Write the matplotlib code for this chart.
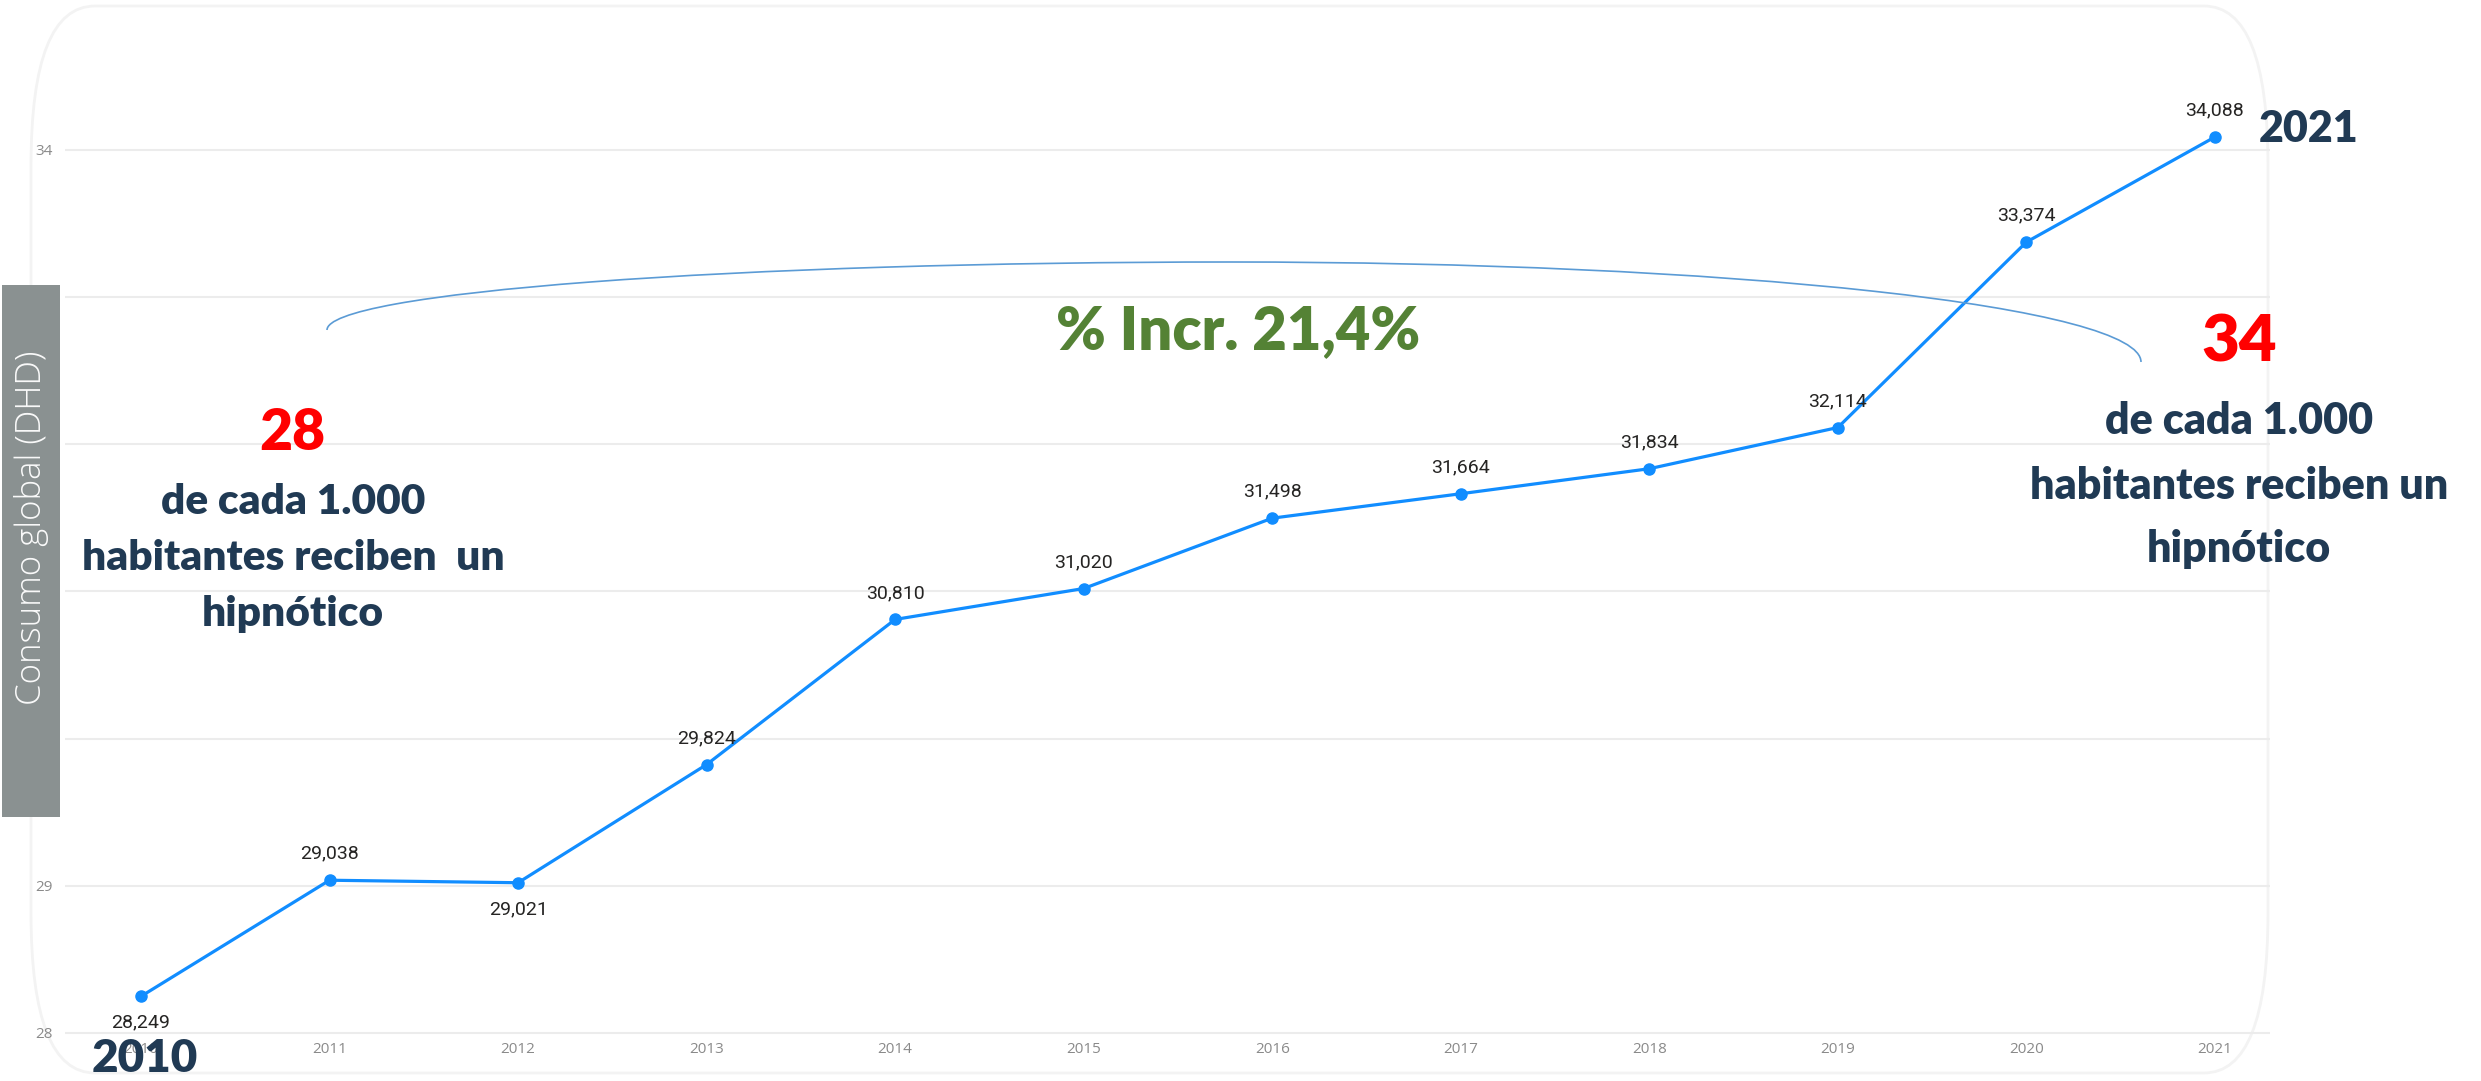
import matplotlib
matplotlib.use('Agg')
import matplotlib.pyplot as plt
from matplotlib.patches import Arc, Rectangle, FancyBboxPatch
from matplotlib.transforms import Affine2D

# values (DHD per year)
years = [2010, 2011, 2012, 2013, 2014, 2015, 2016, 2017, 2018, 2019, 2020, 2021]
dhd = [28.249, 29.038, 29.021, 29.824, 30.810, 31.020, 31.498, 31.664, 31.834, 32.114, 33.374, 34.088]
labels_below = [2010, 2012]
y_ticks = [28, 29, 30, 31, 32, 33, 34]
# 30-33 sit under the grey title box in the original
y_tick_labels = ['28', '29', '', '', '', '', '34']

left_lines = ['de cada 1.000', 'habitantes reciben  un', 'hipnótico']
right_lines = ['de cada 1.000', 'habitantes reciben un', 'hipnótico']

W, H = 2481, 1081
NAVY = '#203a54'
BLUE = '#118DFF'

fig = plt.figure(figsize=(W / 100, H / 100), dpi=100)
fig.set_facecolor('white')

# pixel coordinates, y going down like the picture
px = Affine2D().scale(1 / W, -1 / H).translate(0, 1) + fig.transFigure

# faint card outline
card = FancyBboxPatch((31, 6), 2268 - 31, 1073 - 6, boxstyle='round,pad=0,rounding_size=64',
                      mutation_aspect=2.5, transform=px, facecolor='none',
                      edgecolor='#f3f3f3', lw=2, zorder=0)
fig.add_artist(card)

ax = fig.add_axes([65 / W, 1 - 1038 / H, (2270 - 65) / W, (1038 - 60) / H])
ax.patch.set_alpha(0)
ax.plot(years, dhd, color=BLUE, lw=2.3, marker='o', ms=8, zorder=3)

ax.set_xlim(2009.597, 2021.292)
ax.set_ylim(27.966, 34.611)
ax.set_xticks(years)
ax.set_yticks(y_ticks)
ax.set_yticklabels(y_tick_labels)
ax.grid(axis='y', color='#ececec', lw=1.5)
ax.set_axisbelow(True)
ax.tick_params(length=0, labelsize=11, labelcolor='#8a8a8a')
ax.tick_params(axis='y', pad=9)
ax.tick_params(axis='x', pad=3)
for lab in ax.get_xticklabels() + ax.get_yticklabels():
    lab.set_family('Open Sans')
for s in ax.spines.values():
    s.set_visible(False)

# data labels with decimal comma
for yr, v in zip(years, dhd):
    off = -19 if yr in labels_below else 19
    ax.annotate('{:.3f}'.format(v).replace('.', ','), (yr, v), xytext=(0, off),
                textcoords='offset points', ha='center', va='center',
                fontsize=14, family='Roboto', color='#252423', zorder=4)

# grey y-axis title box
fig.add_artist(Rectangle((2, 285), 58, 532, transform=px, facecolor='#8a9191',
                         edgecolor='none', zorder=5))
fig.text(32, 528, 'Consumo global (DHD)', transform=px, rotation=90, ha='center', va='center',
         fontsize=25, family='Open Sans', fontweight='light', color='#fafafa', zorder=6)

# bracket arc over the period
arc_kw = dict(transform=px, color='#5b9bd5', lw=1.2, zorder=2)
fig.add_artist(Arc((1230, 330), 2 * 903, 2 * 68, theta1=180, theta2=270, **arc_kw))
fig.add_artist(Arc((1230, 362), 2 * 911, 2 * 100, theta1=270, theta2=360, **arc_kw))

fig.text(1238, 349, '% Incr. 21,4%', transform=px, ha='center', va='baseline',
         fontsize=43, family='Lato', fontweight='heavy', color='#548235')

# left annotation
fig.text(292, 450, '28', transform=px, ha='center', va='baseline',
         fontsize=41, family='Lato', fontweight='heavy', color='red')
for line, yb in zip(left_lines, [514, 570, 626]):
    fig.text(293, yb, line, transform=px, ha='center', va='baseline',
             fontsize=30.5, family='Lato', fontweight='heavy', color=NAVY)

# right annotation
fig.text(2239, 362, '34', transform=px, ha='center', va='baseline',
         fontsize=47, family='Lato', fontweight='heavy', color='red')
for line, yb in zip(right_lines, [434, 499, 562]):
    fig.text(2239, yb, line, transform=px, ha='center', va='baseline',
             fontsize=31, family='Lato', fontweight='heavy', color=NAVY)

fig.text(2259, 142, '2021', transform=px, ha='left', va='baseline',
         fontsize=31, family='Lato', fontweight='heavy', color=NAVY)
fig.text(145, 1072, '2010', transform=px, ha='center', va='baseline',
         fontsize=33, family='Lato', fontweight='heavy', color=NAVY, zorder=6)

fig.savefig('out.png', dpi=100)
